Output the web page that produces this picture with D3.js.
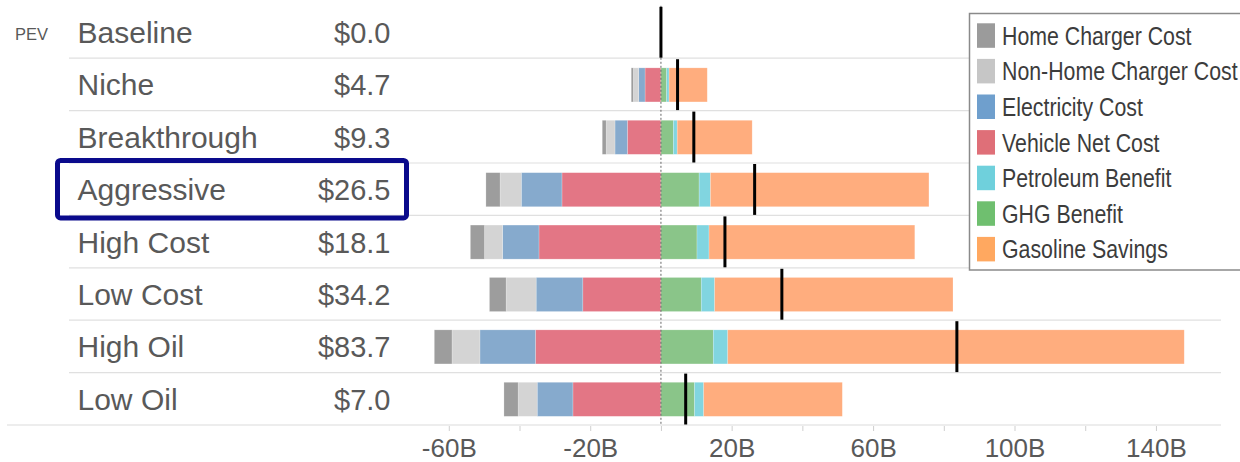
<!DOCTYPE html>
<html>
<head>
<meta charset="utf-8">
<script src="https://cdn.jsdelivr.net/npm/d3@7"></script>
<style>
  html, body { margin: 0; padding: 0; background: #fff; }
  svg { display: block; font-family: "Liberation Sans", Arial, Helvetica, sans-serif; }
</style>
</head>
<body>
<svg id="chart" width="1240" height="462"></svg>
<script>
// PEV scenarios and their net societal benefit (billions of dollars)
const scenarios = ["Baseline", "Niche", "Breakthrough", "Aggressive", "High Cost", "Low Cost", "High Oil", "Low Oil"];
const netBenefit = [0.0, 4.7, 9.3, 26.5, 18.1, 34.2, 83.7, 7.0];

// Cost components (negative, billions)
const homeChargerCost    = [0, -0.6, -1.1, -4.0, -4.0, -4.7, -5.0, -4.0];
const nonHomeChargerCost = [0, -1.5, -2.5, -6.0, -5.1, -8.5, -7.9, -5.4];
const electricityCost    = [0, -1.8, -3.5, -11.5, -10.3, -13.2, -15.7, -10.1];
const vehicleNetCost     = [0, -4.5, -9.5, -28.0, -34.5, -22.1, -35.5, -24.9];

// Benefit components (positive, billions)
const ghgBenefit       = [0, 1.6, 3.5, 10.8, 10.2, 11.4, 14.8, 9.5];
const petroleumBenefit = [0, 0.7, 1.1, 3.2, 3.4, 3.8, 4.1, 2.6];
const gasolineSavings  = [0, 10.8, 21.2, 61.8, 58.2, 67.4, 129.1, 39.2];

// Axis ticks
const tickValues = [-60, -40, -20, 0, 20, 40, 60, 80, 100, 120, 140];
const tickLabels = ["-60B", "", "-20B", "", "20B", "", "60B", "", "100B", "", "140B"];

// Stacking order outward from zero on each side
const stackKeys = ["Vehicle Net Cost", "Electricity Cost", "Non-Home Charger Cost", "Home Charger Cost",
                   "GHG Benefit", "Petroleum Benefit", "Gasoline Savings"];
const seriesValues = {
  "Home Charger Cost": homeChargerCost,
  "Non-Home Charger Cost": nonHomeChargerCost,
  "Electricity Cost": electricityCost,
  "Vehicle Net Cost": vehicleNetCost,
  "Petroleum Benefit": petroleumBenefit,
  "GHG Benefit": ghgBenefit,
  "Gasoline Savings": gasolineSavings
};
const legendOrder = ["Home Charger Cost", "Non-Home Charger Cost", "Electricity Cost", "Vehicle Net Cost",
                     "Petroleum Benefit", "GHG Benefit", "Gasoline Savings"];
const barColors = {
  "Home Charger Cost": "#9d9d9d",
  "Non-Home Charger Cost": "#d4d4d4",
  "Electricity Cost": "#86aacd",
  "Vehicle Net Cost": "#e37685",
  "Petroleum Benefit": "#81d5e0",
  "GHG Benefit": "#8ac589",
  "Gasoline Savings": "#ffad7e"
};
const legendColors = {
  "Home Charger Cost": "#9b9b9b",
  "Non-Home Charger Cost": "#c6c6c6",
  "Electricity Cost": "#6f9fcd",
  "Vehicle Net Cost": "#df6f78",
  "Petroleum Benefit": "#6fd0dc",
  "GHG Benefit": "#6fbf6f",
  "Gasoline Savings": "#ffa860"
};

const rows = scenarios.map((s, i) => {
  const r = { scenario: s, net: netBenefit[i] };
  stackKeys.forEach(k => { r[k] = seriesValues[k][i]; });
  return r;
});

const svg = d3.select("#chart");
const textColor = "#595959";

const x = d3.scaleLinear().domain([-73.8, 158.4]).range([400, 1221]);
const y = d3.scaleBand().domain(scenarios).range([5.8, 425]).paddingInner(0).paddingOuter(0);
const barH = y.bandwidth() * 0.65;

// Row separators
svg.append("g").selectAll("line")
  .data(scenarios.slice(1))
  .join("line")
  .attr("x1", 69).attr("x2", 1221)
  .attr("y1", d => y(d)).attr("y2", d => y(d))
  .attr("stroke", "#e0e0e0").attr("stroke-width", 1.2);

// Bottom rule
svg.append("line")
  .attr("x1", 7).attr("x2", 1221)
  .attr("y1", 425).attr("y2", 425)
  .attr("stroke", "#dcdcdc").attr("stroke-width", 1.2);

// Axis
const axis = d3.axisBottom(x)
  .tickValues(tickValues)
  .tickSize(5)
  .tickSizeOuter(0)
  .tickFormat((d, i) => tickLabels[i]);
const gAxis = svg.append("g").attr("transform", "translate(0,426)").call(axis);
gAxis.select(".domain").remove();
gAxis.selectAll(".tick line").attr("stroke", "#cfcfcf");
gAxis.selectAll(".tick text")
  .attr("fill", textColor)
  .attr("font-size", 26)
  .attr("font-family", "'Liberation Sans', Arial, sans-serif")
  .attr("dy", 0).attr("y", 30.5);

// Stacked bars
const stack = d3.stack().keys(stackKeys).offset(d3.stackOffsetDiverging);
const layers = stack(rows);
svg.append("g").selectAll("g")
  .data(layers)
  .join("g")
  .attr("fill", d => barColors[d.key])
  .selectAll("rect")
  .data(d => d)
  .join("rect")
  .attr("x", d => x(Math.min(d[0], d[1])))
  .attr("width", d => Math.abs(x(d[1]) - x(d[0])))
  .attr("y", d => y(d.data.scenario) + (y.bandwidth() - barH) / 2 + 0.5)
  .attr("height", barH)
  .attr("stroke", "#ffffff").attr("stroke-opacity", 0.35).attr("stroke-width", 0.6);

// Zero reference line
svg.append("line")
  .attr("x1", x(0)).attr("x2", x(0))
  .attr("y1", y.range()[0]).attr("y2", 425)
  .attr("stroke", "#666").attr("stroke-width", 1)
  .attr("stroke-dasharray", "2,2");

// Net benefit markers
svg.append("g").selectAll("line")
  .data(rows)
  .join("line")
  .attr("x1", d => x(d.net)).attr("x2", d => x(d.net))
  .attr("y1", d => y(d.scenario) + 1)
  .attr("y2", d => y(d.scenario) + y.bandwidth() - 0.5)
  .attr("stroke", "#000").attr("stroke-width", 3);

// Row labels
const labels = svg.append("g");
labels.selectAll("text.name")
  .data(rows)
  .join("text")
  .attr("class", "name")
  .attr("transform", d => `translate(77.5,${y(d.scenario) + y.bandwidth() / 2 + 11}) scale(1.035,1)`)
  .attr("font-size", 29)
  .attr("fill", textColor)
  .text(d => d.scenario);
labels.selectAll("text.value")
  .data(rows)
  .join("text")
  .attr("class", "value")
  .attr("x", 390.5)
  .attr("y", d => y(d.scenario) + y.bandwidth() / 2 + 11)
  .attr("text-anchor", "end")
  .attr("font-size", 29)
  .attr("fill", textColor)
  .text(d => "$" + d3.format(".1f")(d.net));

svg.append("text")
  .attr("x", 15).attr("y", 40)
  .attr("font-size", 16.5)
  .attr("fill", textColor)
  .text("PEV");

// Highlighted scenario
const hl = "Aggressive";
svg.append("rect")
  .attr("x", 57.5)
  .attr("y", y(hl) - 2.5)
  .attr("width", 349)
  .attr("height", y.bandwidth() + 5)
  .attr("rx", 3)
  .attr("fill", "none")
  .attr("stroke", "#0a0a8c")
  .attr("stroke-width", 5);

// Legend
const legend = svg.append("g");
legend.append("rect")
  .attr("x", 969.5).attr("y", 13.5)
  .attr("width", 280).attr("height", 256.5)
  .attr("fill", "#fff")
  .attr("stroke", "#8a8a8a").attr("stroke-width", 1.5);
const item = legend.selectAll("g.item")
  .data(legendOrder)
  .join("g")
  .attr("class", "item")
  .attr("transform", (d, i) => `translate(0,${23.3 + i * 35.6})`);
item.append("rect")
  .attr("x", 977).attr("y", 0)
  .attr("width", 18).attr("height", 24.5)
  .attr("fill", d => legendColors[d]);
item.append("text")
  .attr("transform", "translate(1002,21.5) scale(0.82,1)")
  .attr("font-size", 26)
  .attr("fill", "#3c3c3c")
  .text(d => d);
</script>
</body>
</html>
